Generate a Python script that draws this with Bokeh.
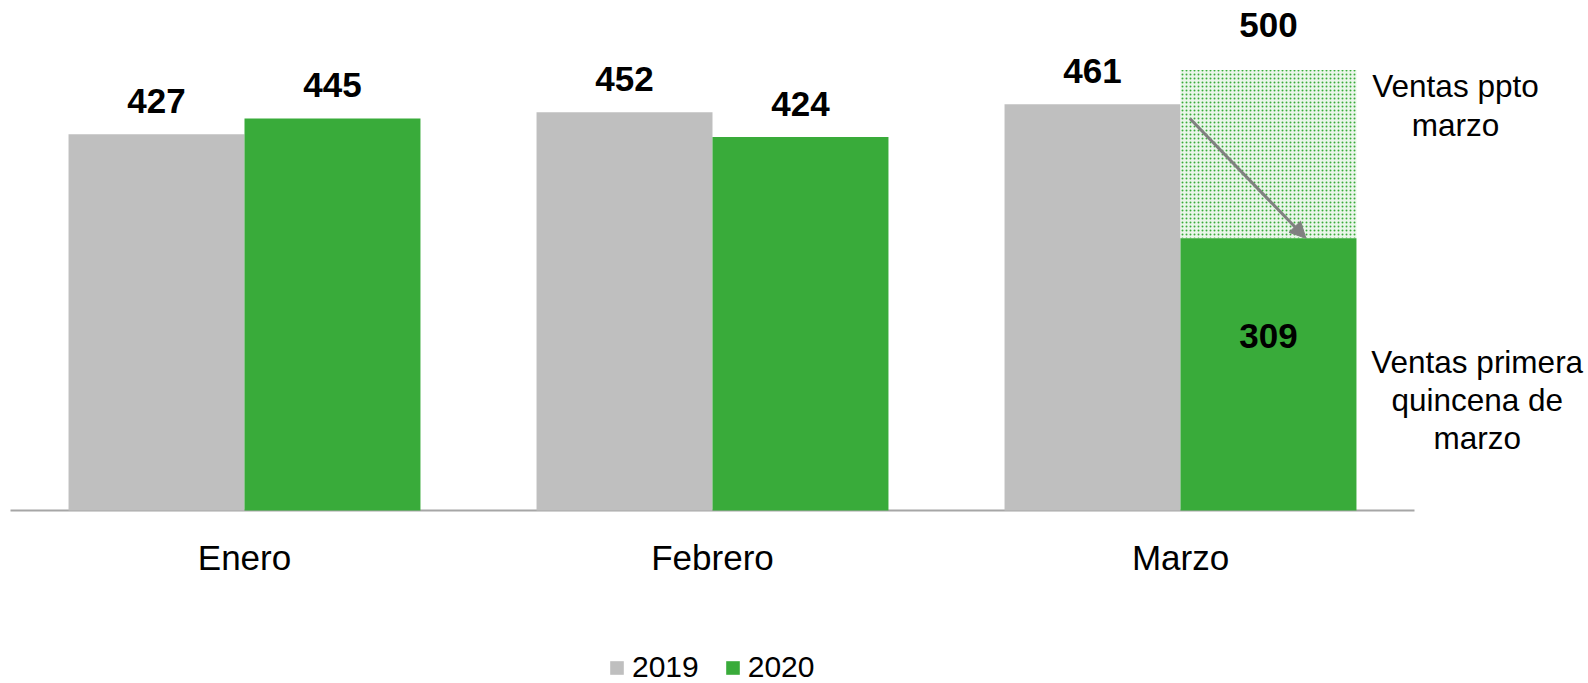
from bokeh.plotting import figure
from bokeh.models import Range1d, Legend, LegendItem, Arrow, NormalHead, ColumnDataSource
from bokeh.embed import file_html
from bokeh.resources import INLINE
from bokeh.core.properties import value

# ---- data ----
months = ["Enero", "Febrero", "Marzo"]
ventas_2019 = [427, 452, 461]
ventas_2020 = [445, 424, 309]
ppto_marzo = 500
series = ["2019", "2020"]
note_ppto = ["Ventas ppto", "marzo"]
note_quincena = ["Ventas primera", "quincena de", "marzo"]
arrow_start_value = 445

GRAY = "#BFBFBF"
GREEN = "#39AB3A"
AXIS = "#A6A6A6"
FONT_NAME = "Liberation Sans"
FONT = value(FONT_NAME)

W, H = 1588, 683
BAR_W = 0.376
PX_PER_UNIT = 0.881          # vertical pixels per sales unit
ZERO_PX = 510                # canvas pixel row of y = 0
CAT_PX = 468                 # pixels per category
LEFT_PX = 10                 # canvas pixel column of x = 0

x_start = -LEFT_PX / CAT_PX
y_end = ZERO_PX / PX_PER_UNIT
y_start = -(H - ZERO_PX) / PX_PER_UNIT

p = figure(width=W, height=H, output_backend="svg", toolbar_location=None,
           x_range=Range1d(x_start, x_start + W / CAT_PX),
           y_range=Range1d(y_start, y_end),
           min_border=0, min_border_left=0, min_border_right=0,
           min_border_top=0, min_border_bottom=0)
p.xaxis.visible = False
p.yaxis.visible = False
p.xgrid.visible = False
p.ygrid.visible = False
p.outline_line_color = None
p.background_fill_color = "white"

centers = [i + 0.5 for i in range(len(months))]
x19 = [c - BAR_W / 2 for c in centers]
x20 = [c + BAR_W / 2 for c in centers]

src = ColumnDataSource(dict(x19=x19, x20=x20, v19=ventas_2019, v20=ventas_2020,
                            cx=centers, month=months))

# baseline
p.segment(x0=[0], y0=[0], x1=[len(months)], y1=[0], line_color=AXIS, line_width=2)

r19 = p.vbar(x="x19", top="v19", width=BAR_W, bottom=0, source=src,
             fill_color=GRAY, line_color=None)

# budget bar (dotted) for March 2020
m = len(months) - 1
p.vbar(x=[x20[m]], bottom=[ventas_2020[m]], top=[ppto_marzo], width=BAR_W,
       fill_color="#EAF6EA", line_color=None, hatch_pattern="dot",
       hatch_color=GREEN, hatch_scale=4, hatch_weight=3.5)

r20 = p.vbar(x="x20", top="v20", width=BAR_W, bottom=0, source=src,
             fill_color=GREEN, line_color=None)

# value labels
lab_kw = dict(text_font=FONT, text_font_style="bold", text_font_size="35px",
              text_align="center", text_baseline="alphabetic", text_color="black")
p.text(x=x19, y=ventas_2019, text=[str(v) for v in ventas_2019], y_offset=-33, **lab_kw)
p.text(x=x20[:m], y=ventas_2020[:m], text=[str(v) for v in ventas_2020[:m]], y_offset=-33, **lab_kw)
p.text(x=[x20[m]], y=[ppto_marzo], text=[str(ppto_marzo)], y_offset=-45, **lab_kw)
p.text(x=[x20[m]], y=[ventas_2020[m]], text=[str(ventas_2020[m])], y_offset=98, **lab_kw)

# category labels
p.text(x="cx", y=0, text="month", source=src, y_offset=47,
       text_font=FONT, text_font_size="35px", text_align="center",
       text_baseline="alphabetic", text_color="black")

# side notes
note_kw = dict(text_font=FONT, text_font_size="31.5px", text_align="center",
               text_baseline="alphabetic", text_color="black")
line_gap = 39 / PX_PER_UNIT
ppto_base = 470 + 10 / PX_PER_UNIT
p.text(x=[3.0876] * len(note_ppto),
       y=[ppto_base - i * line_gap for i in range(len(note_ppto))],
       text=note_ppto, **note_kw)
q_base = 156.6 + 11 / PX_PER_UNIT
p.text(x=[3.134] * len(note_quincena),
       y=[q_base - i * (38 / PX_PER_UNIT) for i in range(len(note_quincena))],
       text=note_quincena, **note_kw)

# arrow
p.add_layout(Arrow(end=NormalHead(size=16, fill_color="#808080", line_color="#808080"),
                   x_start=x20[m] - BAR_W / 2 + 0.02, y_start=arrow_start_value,
                   x_end=x20[m] + 0.08, y_end=ventas_2020[m],
                   line_color="#808080", line_width=3))

legend = Legend(items=[LegendItem(label=series[0], renderers=[r19]),
                       LegendItem(label=series[1], renderers=[r20])],
                location=(608, -1), orientation="horizontal",
                glyph_width=17, glyph_height=17, label_standoff=7, spacing=25,
                padding=0, margin=0, border_line_color=None,
                background_fill_alpha=0,
                label_text_font=FONT_NAME, label_text_font_size="30px",
                label_text_color="black")
p.add_layout(legend)

open("out.html", "w").write(file_html(p, INLINE))
